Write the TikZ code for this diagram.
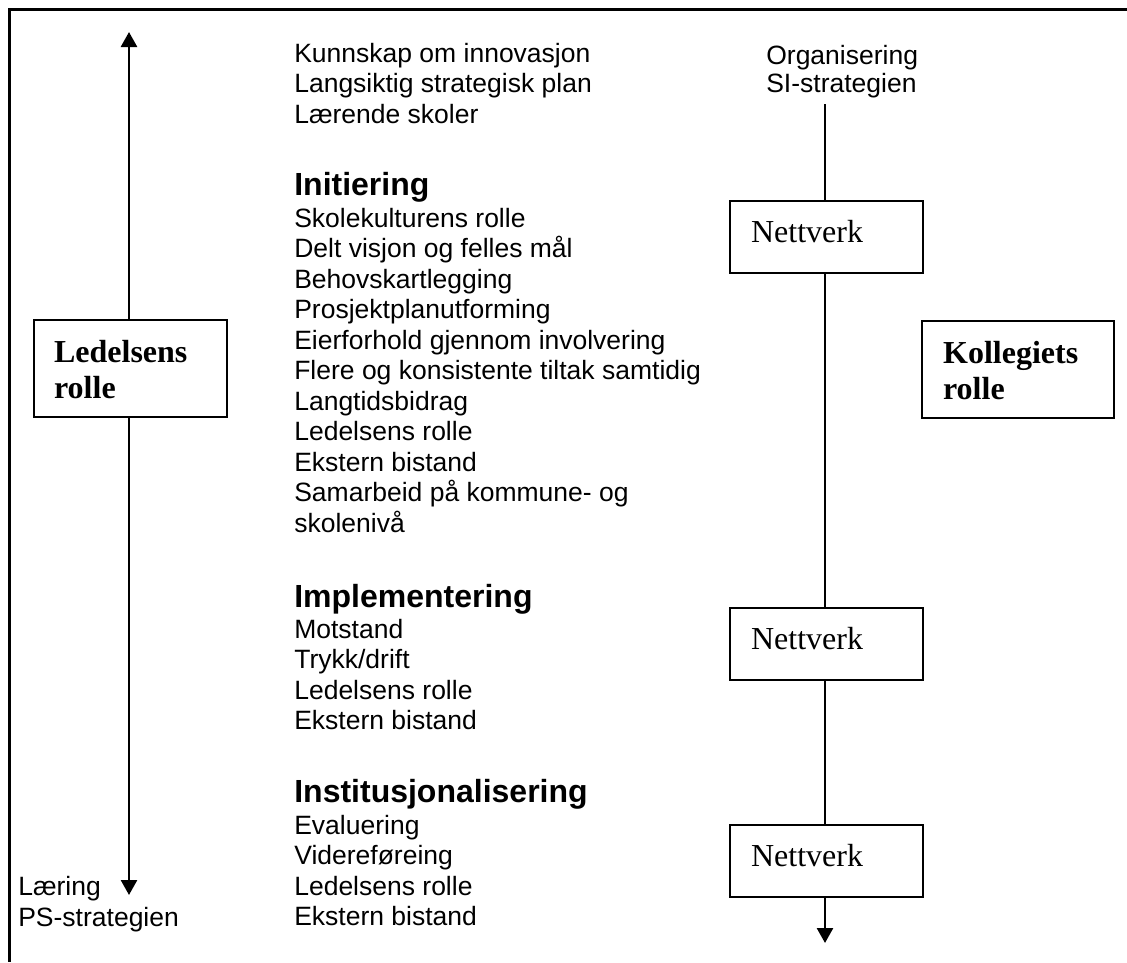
\documentclass[tikz,border=0pt]{standalone}
\usepackage{fontspec}
\setmainfont{Liberation Serif}
\setsansfont{Liberation Sans}
\usetikzlibrary{arrows.meta}

\begin{document}
\begin{tikzpicture}[x=1pt,y=-1pt,
  line width=2.6pt,
  item/.style={anchor=base west, inner sep=0pt, font=\sffamily\fontsize{26.5}{30.5}\selectfont},
  heading/.style={anchor=base west, inner sep=0pt, font=\sffamily\bfseries\fontsize{32}{36}\selectfont},
  rolebox/.style={draw, line width=2.2pt, anchor=north west, inner xsep=20pt, inner ysep=0pt,
    text width=153pt, align=left, text height=42pt, text depth=55pt,
    font=\rmfamily\bfseries\fontsize{32}{36}\selectfont},
  netbox/.style={draw, line width=2.2pt, anchor=north west, inner xsep=21pt, inner ysep=0pt,
    text width=151pt, align=left, text height=41pt, text depth=31pt,
    font=\rmfamily\fontsize{32}{36}\selectfont},
  tip/.style={-{Triangle[length=15pt,width=16pt]}}
]
\useasboundingbox (0,0) rectangle (1127,962);

% frame (open on the right and at the bottom)
\draw[line width=3pt] (1127,9) -- (9,9) -- (9,962);

% left axis: management role
\node[rolebox] (lead) at (33,319) {Ledelsens\\rolle};
\coordinate (ltop) at (129,32);
\coordinate (lbot) at (129,895);
\draw[tip] (lead.north -| ltop) -- (ltop);
\draw[tip] (lead.south -| lbot) -- (lbot);
\node[item] (ler1) at (17,895) {Læring};
\node[item] (ler2) at (17,926.5) {PS-strategien};

% right axis: networks
\node[item] (org1) at (765,64) {Organisering};
\node[item] (org2) at (765,92.5) {SI-strategien};
\coordinate (rtop) at (825,104);
\coordinate (rbot) at (825,943);
\node[netbox] (net1) at (729,200) {Nettverk};
\node[netbox] (net2) at (729,607) {Nettverk};
\node[netbox] (net3) at (729,824) {Nettverk};
\node[rolebox, inner xsep=21pt, text width=150pt] (coll) at (921,320) {Kollegiets\\rolle};
\draw (rtop) -- (net1.north -| rtop);
\draw (net1.south -| rtop) -- (net2.north -| rtop);
\draw (net2.south -| rtop) -- (net3.north -| rtop);
\draw[tip] (net3.south -| rbot) -- (rbot);

% middle column: phases and their themes
\foreach \t [count=\i] in {Kunnskap om innovasjon, Langsiktig strategisk plan, Lærende skoler}
  \node[item] (a\i) at (293,{62+(\i-1)*30.5}) {\t};

\node[heading] (init) at (293,195) {Initiering};
\foreach \t [count=\i] in {Skolekulturens rolle, Delt visjon og felles mål, Behovskartlegging,
    Prosjektplanutforming, Eierforhold gjennom involvering, Flere og konsistente tiltak samtidig,
    Langtidsbidrag, Ledelsens rolle, Ekstern bistand, Samarbeid på kommune- og, skolenivå}
  \node[item] (b\i) at (293,{227+(\i-1)*30.5}) {\t};

\node[heading] (impl) at (293,607) {Implementering};
\foreach \t [count=\i] in {Motstand, Trykk/drift, Ledelsens rolle, Ekstern bistand}
  \node[item] (c\i) at (293,{638+(\i-1)*30.5}) {\t};

\node[heading] (inst) at (293,802) {Institusjonalisering};
\foreach \t [count=\i] in {Evaluering, Videreføreing, Ledelsens rolle, Ekstern bistand}
  \node[item] (d\i) at (293,{834+(\i-1)*30.5}) {\t};
\end{tikzpicture}
\end{document}
